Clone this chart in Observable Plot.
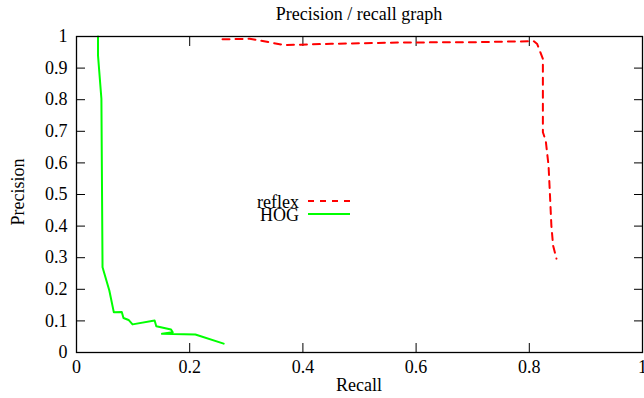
<!DOCTYPE html>
<html>
<head>
<meta charset="utf-8">
<script src="https://cdn.jsdelivr.net/npm/d3@7"></script>
<script src="https://cdn.jsdelivr.net/npm/@observablehq/plot@0.6"></script>
<style>
  html, body { margin: 0; padding: 0; background: #fff; }
  #wrap { position: relative; width: 644px; height: 398px; overflow: hidden; font-family: "Liberation Serif", "DejaVu Serif", serif; color: #000; }
  #wrap svg { display: block; }
  .lbl { position: absolute; font-size: 18px; line-height: 18px; white-space: nowrap; }
</style>
</head>
<body>
<div id="wrap"></div>
<script>
// ---- data ----
const chartTitle = "Precision / recall graph";
const xLabel = "Recall";
const yLabel = "Precision";
const recallTicks = [0, 0.2, 0.4, 0.6, 0.8, 1];
const precisionTicks = [0, 0.1, 0.2, 0.3, 0.4, 0.5, 0.6, 0.7, 0.8, 0.9, 1];
const seriesNames = ["reflex", "HOG"];
const seriesColors = ["#ff0000", "#00ff00"];

const reflexRecall    = [0.258, 0.306, 0.367, 0.396, 0.45, 0.572, 0.70, 0.800, 0.808, 0.814, 0.824, 0.824, 0.829, 0.834, 0.836, 0.839, 0.842, 0.848];
const reflexPrecision = [0.991, 0.993, 0.973, 0.974, 0.977, 0.981, 0.982, 0.985, 0.985, 0.976, 0.929, 0.697, 0.671, 0.592, 0.518, 0.402, 0.339, 0.297];

const hogRecall    = [0.038, 0.038, 0.044, 0.046, 0.058, 0.066, 0.080, 0.083, 0.092, 0.099, 0.138, 0.141, 0.167, 0.170, 0.151, 0.210, 0.260];
const hogPrecision = [1.000, 0.940, 0.803, 0.270, 0.196, 0.127, 0.128, 0.109, 0.103, 0.089, 0.101, 0.083, 0.073, 0.064, 0.059, 0.057, 0.028];

const reflex = reflexRecall.map((r, i) => ({recall: r, precision: reflexPrecision[i]}));
const hog = hogRecall.map((r, i) => ({recall: r, precision: hogPrecision[i]}));

const fmt = d => String(+(+d).toFixed(1));
const blank = () => "";

const chart = Plot.plot({
  width: 644,
  height: 398,
  marginLeft: 76,
  marginRight: 2,
  marginTop: 36,
  marginBottom: 46,
  style: {fontFamily: "'Liberation Serif', serif", fontSize: "18px", color: "#000", background: "#fff", overflow: "visible"},
  x: {domain: [0, 1], label: null},
  y: {domain: [0, 1], label: null},
  marks: [
    Plot.axisX(recallTicks, {anchor: "bottom", tickSize: -9, tickPadding: 17, tickFormat: fmt, label: null, stroke: "#000"}),
    Plot.axisX(recallTicks, {anchor: "top", tickSize: -9, tickFormat: blank, label: null, stroke: "#000"}),
    Plot.axisY(precisionTicks, {anchor: "left", tickSize: -9, tickPadding: 18, tickFormat: fmt, label: null, stroke: "#000"}),
    Plot.axisY(precisionTicks, {anchor: "right", tickSize: -9, tickFormat: blank, label: null, stroke: "#000"}),
    Plot.line(reflex, {x: "recall", y: "precision", stroke: seriesColors[0], strokeWidth: 2, strokeDasharray: "7,6"}),
    Plot.line(hog, {x: "recall", y: "precision", stroke: seriesColors[1], strokeWidth: 2}),
    Plot.frame({stroke: "#000", strokeWidth: 1.3})
  ]
});

const wrap = document.getElementById("wrap");
wrap.appendChild(chart);

function addLabel(text, css) {
  const d = document.createElement("div");
  d.className = "lbl";
  d.textContent = text;
  Object.assign(d.style, css);
  wrap.appendChild(d);
  return d;
}
addLabel(chartTitle, {left: "76px", width: "566px", top: "5px", textAlign: "center"});
addLabel(xLabel, {left: "76px", width: "566px", top: "376px", textAlign: "center"});
addLabel(yLabel, {left: "-32px", width: "100px", top: "183px", textAlign: "center", transform: "rotate(-90deg)"});

// legend
const ns = "http://www.w3.org/2000/svg";
const legSvg = document.createElementNS(ns, "svg");
legSvg.setAttribute("width", 644);
legSvg.setAttribute("height", 398);
Object.assign(legSvg.style, {position: "absolute", left: "0", top: "0", pointerEvents: "none"});
seriesNames.forEach((name, i) => {
  const top = 196 + i * 13;
  addLabel(name, {left: "150px", width: "149px", top: top + "px", textAlign: "right", lineHeight: "13px"});
  const ln = document.createElementNS(ns, "line");
  ln.setAttribute("x1", 308); ln.setAttribute("x2", 350);
  ln.setAttribute("y1", top + 5); ln.setAttribute("y2", top + 5);
  ln.setAttribute("stroke", seriesColors[i]);
  ln.setAttribute("stroke-width", 2);
  if (i === 0) ln.setAttribute("stroke-dasharray", "6,6");
  legSvg.appendChild(ln);
});
wrap.appendChild(legSvg);
</script>
</body>
</html>
